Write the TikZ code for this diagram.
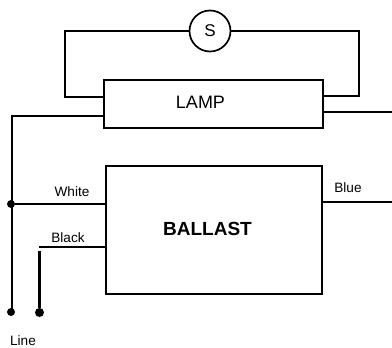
\documentclass[tikz,border=0pt]{standalone}
\usepackage{fontspec}
\setmainfont{Liberation Sans}
\begin{document}
\begin{tikzpicture}[x=1pt,y=-1pt,
  wire/.style={draw=black,line width=2.1pt},
  thinwire/.style={draw=black,line width=1.7pt},
  boxnode/.style={draw=black,line width=2.1pt,fill=white,inner sep=0pt,anchor=north west},
  lbl/.style={inner sep=0pt,font=\fontsize{13.6}{15}\selectfont},
  dot/.style={circle,fill=black,inner sep=0pt,minimum size=#1}]
\useasboundingbox (0,0) rectangle (392,348);
\node[boxnode,minimum width=219pt,minimum height=48pt] (lamp) at (103,79) {};
\node[inner sep=0pt,font=\fontsize{18}{20}\selectfont] (lamptext) at (200.5,102) {LAMP};
\node[boxnode,minimum width=216pt,minimum height=128pt] (ballast) at (105,165) {};
\node[inner sep=0pt,font=\bfseries\fontsize{19}{22}\selectfont] (ballasttext) at (207.5,229) {BALLAST};
\node[circle,draw=black,line width=1.7pt,fill=white,minimum size=41pt,inner sep=0pt,font=\fontsize{17}{20}\selectfont] (s) at (210,31) {S};
\coordinate (tl) at (65,31);
\coordinate (bl) at (65,97);
\coordinate (tr) at (359,31);
\coordinate (br) at (359,96);
\coordinate (la) at (103,97);
\coordinate (lb) at (322,96);
\coordinate (lc) at (103,116);
\coordinate (ld) at (11.6,116);
\coordinate (le) at (322,112);
\coordinate (lf) at (392,112);
\coordinate (lg) at (11.6,312);
\node[dot=8pt] (d1) at (11,204) {};
\node[dot=8pt] (d2) at (11,312) {};
\node[dot=9pt] (d3) at (39.5,312.5) {};
\coordinate (wa) at (105,204);
\coordinate (ba) at (105,247);
\coordinate (bb) at (39,247);
\coordinate (bc) at (39.5,251);
\coordinate (ua) at (321,202);
\coordinate (ub) at (392,202);
\draw[wire] (s) -- (tl) -- (bl) -- (la);
\draw[wire] (s) -- (tr) -- (br) -- (lb);
\draw[wire] (lc) -- (ld) -- (lg);
\draw[thinwire] (le) -- (lf);
\draw[wire] (d1) -- (wa);
\draw[thinwire] (ba) -- (bb);
\draw[wire] (bc) -- (d3);
\draw[thinwire] (ua) -- (ub);
\node[lbl] (white) at (72,192) {White};
\node[lbl] (black) at (68,238) {Black};
\node[lbl] (blue) at (348,188) {Blue};
\node[lbl] (line) at (23,340.5) {Line};
\end{tikzpicture}
\end{document}
